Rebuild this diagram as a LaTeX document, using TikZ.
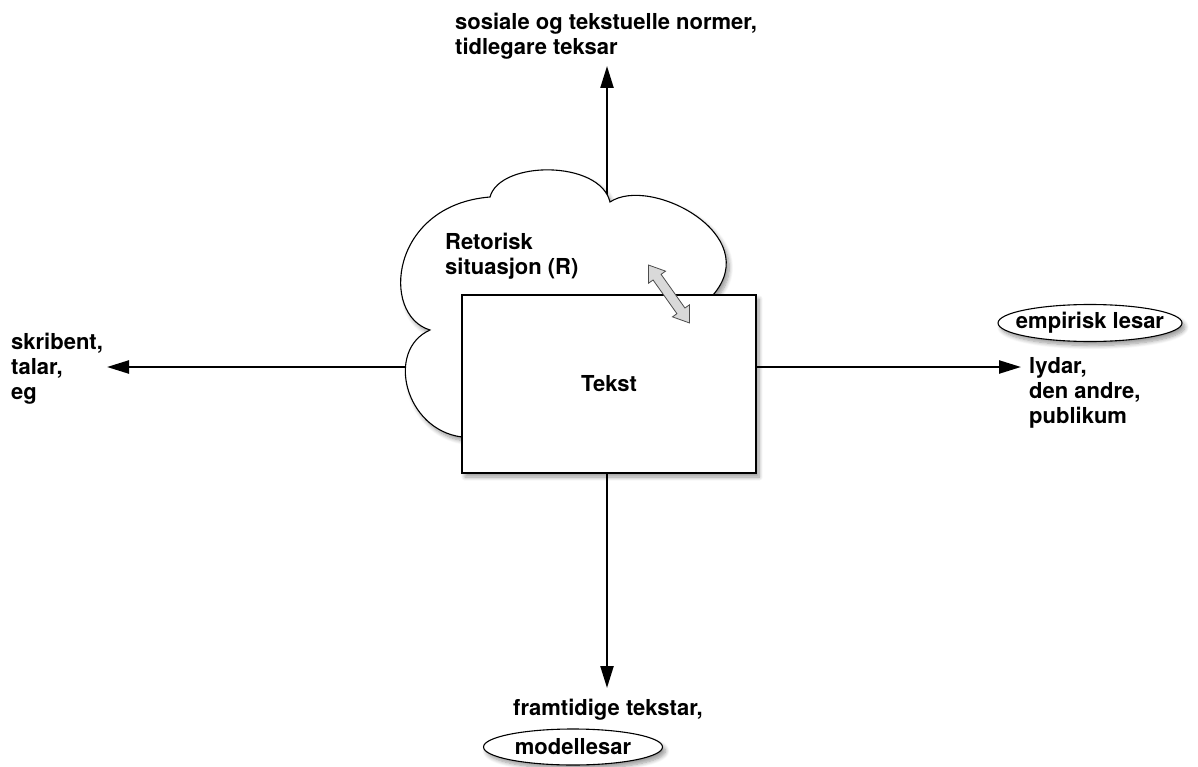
\documentclass[tikz,border=0pt]{standalone}
\usepackage{fontspec}
\setmainfont{TeX Gyre Heros}
\usetikzlibrary{arrows.meta,shapes.arrows,shapes.geometric,shadows.blur}

\begin{document}
\begin{tikzpicture}[x=1pt,y=-1pt,
  every node/.style={font=\fontsize{22}{25}\selectfont\bfseries},
  % multi-line labels: placed by the baseline of their last line
  txt/.style={inner sep=0pt, align=left, anchor=base west},
  softshadow/.style={blur shadow={shadow xshift=3pt, shadow yshift=-4pt,
      shadow blur steps=8, shadow blur radius=4pt, shadow opacity=40}},
  axis/.style={line width=2.3pt, -{Triangle[length=22pt,width=13pt]}},
  outline/.style={draw=black, line width=1.1pt, fill=white},
  tag/.style={ellipse, outline, softshadow},
]
\useasboundingbox (0,0) rectangle (1198,767);

% meeting point of the four axes and their free ends
\coordinate (hub)   at (607,367);
\coordinate (north) at (607,66);
\coordinate (south) at (607,688);
\coordinate (west)  at (107,367);
\coordinate (east)  at (1021,367);

\draw[axis] (hub) -- (north);
\draw[axis] (hub) -- (south);
\draw[axis] (hub) -- (west);
\draw[axis] (hub) -- (east);

% the rhetorical situation as a cloud behind the text
\path[outline, softshadow]
  (462,437) .. controls (405,430) and (385,350) .. (430,330)
            .. controls (380,315) and (390,205) .. (490,197)
            .. controls (500,160) and (600,160) .. (610,202)
            .. controls (650,175) and (765,235) .. (713,295)
            -- (600,400) -- cycle;

% the text itself
\node[outline, softshadow, minimum width=294pt, minimum height=178pt, inner sep=0pt]
  (tekst) at (609,384) {Tekst};

% exchange between text and situation
\node[double arrow, draw=black!70, fill=black!15, line width=0.8pt,
      minimum height=71pt, inner xsep=0pt, inner ysep=4.5pt,
      double arrow head extend=5.5pt, double arrow tip angle=70,
      rotate=-54.7] (dbl) at (669,294) {};

% labels
\node[txt] (norms) at (455,55) {sosiale og tekstuelle normer,\\tidlegare teksar};
\node[txt] (situ)  at (445,274) {Retorisk\\situasjon (R)};
\node[txt] (writer) at (11,399) {skribent,\\talar,\\eg};
\node[txt] (audience) at (1029,423) {lydar,\\den andre,\\publikum};
\node[txt] (future) at (513,715) {framtidige tekstar,};

\node[tag, inner xsep=-9pt, inner ysep=0pt, minimum height=37pt] (emp) at (1090,323) {empirisk lesar};
\node[tag, inner sep=0pt, minimum width=179pt, minimum height=36pt] (model) at (573,747) {modellesar};
\end{tikzpicture}
\end{document}
